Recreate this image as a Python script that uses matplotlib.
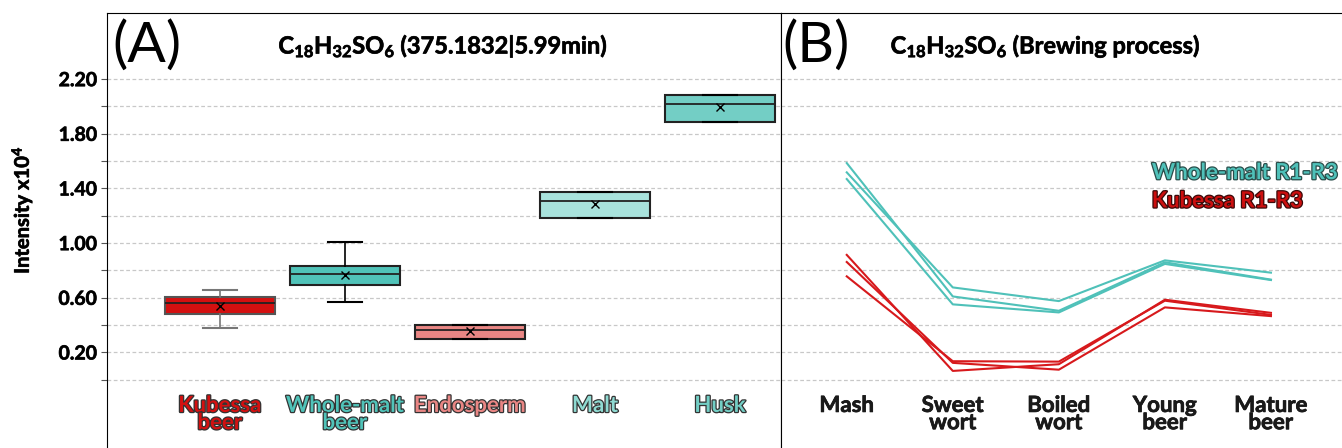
import numpy as np
import matplotlib.pyplot as plt
from matplotlib import patheffects as pe
from matplotlib.transforms import blended_transform_factory

plt.rcParams['font.family'] = ['Lato', 'DejaVu Sans']
plt.rcParams['mathtext.fontset'] = 'custom'
plt.rcParams['mathtext.rm'] = 'Lato:bold'
plt.rcParams['mathtext.bf'] = 'Lato:bold'
plt.rcParams['mathtext.default'] = 'bf'

# (A) box summaries per sample type, intensity x10^4
tissues = ['Kubessa\nbeer', 'Whole-malt\nbeer', 'Endosperm', 'Malt', 'Husk']
q1 = [0.483, 0.696, 0.300, 1.183, 1.890]
med = [0.564, 0.777, 0.366, 1.310, 2.019]
q3 = [0.608, 0.835, 0.400, 1.376, 2.085]
whislo = [0.380, 0.571, 0.300, 1.183, 1.890]
whishi = [0.659, 1.011, 0.400, 1.376, 2.085]
means = [0.542, 0.769, 0.354, 1.290, 1.997]
box_colors = ['#d41010', '#50c3b9', '#e98684', '#a8e2dc', '#73cec5']
text_colors = ['#d41010', '#50c3b9', '#e98684', '#8fdad2', '#73cec5']

# (B) brewing process, three replicates each
stages = ['Mash', 'Sweet\nwort', 'Boiled\nwort', 'Young\nbeer', 'Mature\nbeer']
whole_malt_r1 = [1.586, 0.610, 0.505, 0.860, 0.733]
whole_malt_r2 = [1.518, 0.676, 0.576, 0.874, 0.784]
whole_malt_r3 = [1.469, 0.552, 0.493, 0.848, 0.730]
kubessa_r1 = [0.914, 0.065, 0.114, 0.586, 0.490]
kubessa_r2 = [0.862, 0.124, 0.074, 0.530, 0.466]
kubessa_r3 = [0.757, 0.136, 0.133, 0.579, 0.475]

teal = '#4fc1b9'
red = '#d7191c'
thick = [pe.withStroke(linewidth=0.5, foreground='#111111')]

fig = plt.figure(figsize=(13.42, 4.48), dpi=100)
ax1 = fig.add_axes([107 / 1342, 0, 674 / 1342, 435 / 448])
ax2 = fig.add_axes([781 / 1342, 0, 561 / 1342, 435 / 448])

yt = np.round(np.arange(0, 2.21, 0.2), 2)
for ax in (ax1, ax2):
    ax.set_ylim(-0.499, 2.684)
    ax.set_yticks(yt)
    ax.grid(axis='y', ls=(0, (3, 2)), color='#c8c8c8', lw=0.9)
    ax.set_axisbelow(True)
    ax.spines['bottom'].set_visible(False)
    ax.set_xticks([])

# ---- panel A
stats = []
for i in range(len(tissues)):
    stats.append(dict(q1=q1[i], med=med[i], q3=q3[i], whislo=whislo[i],
                      whishi=whishi[i], mean=means[i], fliers=[], label=''))
pos = np.arange(1, len(tissues) + 1)
bp = ax1.bxp(stats, positions=pos, widths=0.88, patch_artist=True, showmeans=True,
             capwidths=0.27,
             meanprops=dict(marker='x', markeredgecolor='black', markersize=6, mew=1),
             medianprops=dict(color='#222222', lw=1.3),
             whiskerprops=dict(color='black', lw=1.2),
             capprops=dict(color='black', lw=1.5),
             boxprops=dict(lw=1.5))
for i, b in enumerate(bp['boxes']):
    b.set_facecolor(box_colors[i])
    b.set_edgecolor('#222222' if i else '#555555')
for w in bp['whiskers'][:2] + bp['caps'][:2]:
    w.set_color('#777777')

ax1.set_xlim(0.096, 5.488)
ax1.set_yticklabels(['' if i % 2 == 0 else f'{v:.2f}' for i, v in enumerate(yt)],
                    fontsize=14, fontweight='bold')
for lab in ax1.get_yticklabels():
    lab.set_path_effects(thick)
ax1.tick_params(axis='y', length=4, color='#555555', pad=3)
ax1.set_ylabel('Intensity x10$^{4}$', fontsize=14.5, fontweight='bold', path_effects=thick)
ax1.yaxis.set_label_coords(-0.107, 0.547)

tr1 = blended_transform_factory(ax1.transData, ax1.transAxes)
for i, t in enumerate(tissues):
    ax1.text(pos[i], 0.122, t, transform=tr1, ha='center', va='top', fontsize=16,
             fontweight='bold', color=text_colors[i], linespacing=0.78,
             path_effects=[pe.withStroke(linewidth=1.8, foreground='#333333')])

ax1.text(0.008, 0.925, '(A)', transform=ax1.transAxes, fontsize=41, va='center', ha='left')
ax1.text(0.499, 0.925, 'C$_{18}$H$_{32}$SO$_{6}$ (375.1832|5.99min)',
         transform=ax1.transAxes, fontsize=17, fontweight='bold', ha='center', va='center',
         path_effects=thick)

# ---- panel B
x = np.arange(len(stages))
for s in (whole_malt_r1, whole_malt_r2, whole_malt_r3):
    ax2.plot(x, s, color=teal, lw=1.5)
for s in (kubessa_r1, kubessa_r2, kubessa_r3):
    ax2.plot(x, s, color=red, lw=1.5)
ax2.set_xlim(-0.62, 4.67)
ax2.tick_params(axis='y', length=0, labelleft=False)
ax2.spines['right'].set_visible(False)

tr2 = blended_transform_factory(ax2.transData, ax2.transAxes)
for i, s in enumerate(stages):
    ax2.text(x[i], 0.122, s, transform=tr2, ha='center', va='top', fontsize=16,
             fontweight='bold', color='#1a1a1a', linespacing=0.78, path_effects=thick)

ax2.text(0.002, 0.925, '(B)', transform=ax2.transAxes, fontsize=41, va='center', ha='left')
ax2.text(0.472, 0.925, 'C$_{18}$H$_{32}$SO$_{6}$ (Brewing process)',
         transform=ax2.transAxes, fontsize=17, fontweight='bold', ha='center', va='center',
         path_effects=thick)
ax2.text(0.661, 0.633, 'Whole-malt R1-R3', transform=ax2.transAxes, fontsize=16,
         fontweight='bold', color=teal, va='center', ha='left',
         path_effects=[pe.withStroke(linewidth=1.8, foreground='#2a4d4a')])
ax2.text(0.661, 0.568, 'Kubessa R1-R3', transform=ax2.transAxes, fontsize=16,
         fontweight='bold', color='#cc0f0f', va='center', ha='left',
         path_effects=[pe.withStroke(linewidth=1.8, foreground='#3a0a0a')])

fig.savefig('out.png', dpi=100)
